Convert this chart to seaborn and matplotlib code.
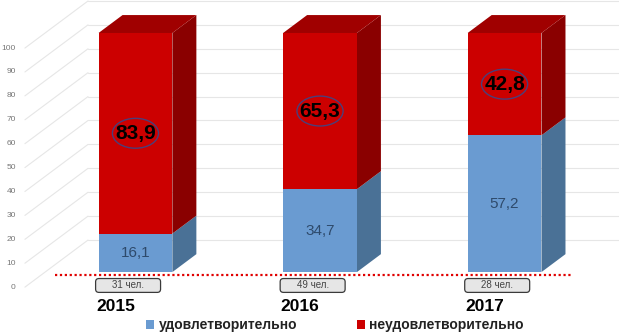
import numpy as np
import pandas as pd
import matplotlib.pyplot as plt
import seaborn as sns
from matplotlib.patches import Polygon, Ellipse, FancyBboxPatch, Rectangle

years = ["2015", "2016", "2017"]
satisfactory = [16.1, 34.7, 57.2]
unsatisfactory = [83.9, 65.3, 42.8]
people = ["31 чел.", "49 чел.", "28 чел."]
ticks = list(range(0, 101, 10))
legend_labels = ["удовлетворительно", "неудовлетворительно"]

BLUE, BLUE_SIDE = "#6a9bd1", "#4a7196"
RED, RED_SIDE, RED_TOP = "#cc0000", "#8a0000", "#a00000"
GRID = "#e6e6e6"

# fake 3d: offset of a bar's back face and of the back wall (data units)
DX, DY = 0.13, 7.5
FRONT_SHIFT = -6.3   # front axis scale sits a bit below the bar base
WALL_SHIFT = 13.4


def fmt(v):
    return f"{v:.1f}".replace(".", ",")


df = pd.DataFrame({"year": years, "sat": satisfactory, "unsat": unsatisfactory})
df["total"] = df["sat"] + df["unsat"]

sns.set_theme(style="white")
plt.rcParams["font.family"] = ["Liberation Sans", "DejaVu Sans"]

fig = plt.figure(figsize=(6.19, 3.34), dpi=100)
ax = fig.add_axes([0, 0, 1, 1])

# stacked bars: red total first, blue part on top of it
sns.barplot(data=df, x="year", y="total", color=RED, width=0.4, saturation=1,
            linewidth=0, errorbar=None, ax=ax, zorder=3)
red_bars = list(ax.patches)
sns.barplot(data=df, x="year", y="sat", color=BLUE, width=0.4, saturation=1,
            linewidth=0, errorbar=None, ax=ax, zorder=4)
blue_bars = list(ax.patches)[len(red_bars):]

# grid: slanted lines from the front scale to the back wall, then the wall
for t in ticks:
    ax.plot([-0.599, -0.257], [t + FRONT_SHIFT, t + WALL_SHIFT], color=GRID, lw=0.8, zorder=0)
    ax.plot([-0.257, 2.8], [t + WALL_SHIFT] * 2, color=GRID, lw=0.8, zorder=0)
    ax.text(-0.648, t + FRONT_SHIFT, str(t), ha="right", va="center",
            fontsize=6, color="#777777")

for i, (rb, bb) in enumerate(zip(red_bars, blue_bars)):
    x0 = rb.get_x()
    w = rb.get_width()
    x1 = x0 + w
    cx = x0 + w / 2
    b = bb.get_height()
    top = rb.get_height()

    # side and top faces
    ax.add_patch(Polygon([(x1, 0), (x1 + DX, DY), (x1 + DX, b + DY), (x1, b)],
                         closed=True, fc=BLUE_SIDE, lw=0, zorder=2))
    ax.add_patch(Polygon([(x1, b), (x1 + DX, b + DY), (x1 + DX, top + DY), (x1, top)],
                         closed=True, fc=RED_SIDE, lw=0, zorder=2))
    ax.add_patch(Polygon([(x0, top), (x1, top), (x1 + DX, top + DY), (x0 + DX, top + DY)],
                         closed=True, fc=RED_TOP, lw=0, zorder=2))

    # values
    ax.text(cx, b / 2, fmt(satisfactory[i]), ha="center", va="center",
            fontsize=11, color="#2e4a6b", zorder=7)
    ry = b + unsatisfactory[i] / 2
    ax.text(cx, ry, fmt(unsatisfactory[i]), ha="center", va="center",
            fontsize=15, fontweight="bold", color="black", zorder=7)
    ax.add_patch(Ellipse((cx, ry), 0.25, 12.5, fill=False, ec="#4a3f7a", lw=1, zorder=7))

    # people count box
    bx, by = cx - 0.04, -5.6
    ax.add_patch(FancyBboxPatch((bx - 0.176, by - 2.9), 0.352, 5.8,
                                boxstyle="round,pad=0,rounding_size=0.018",
                                mutation_aspect=184.5 / 2.39,
                                fc="#e6e6e6", ec="#3a3a3a", lw=0.9, zorder=6))
    ax.text(bx, by, people[i], ha="center", va="center", fontsize=7,
            color="#444444", zorder=7)

    # year label
    ax.text(cx - 0.108, -14.2, years[i], ha="center", va="center",
            fontsize=12.5, fontweight="bold", color="black")

# red dotted base line
ax.plot([-0.436, 2.366], [-1.25, -1.25], color="#e00000", lw=1.6,
        ls=(0, (1, 1.2)), zorder=8)

handles = [Rectangle((0, 0), 1, 1, fc=BLUE, lw=0), Rectangle((0, 0), 1, 1, fc=RED, lw=0)]
fig.legend(handles, legend_labels, loc="center", bbox_to_anchor=(0.541, 0.026),
           ncol=2, frameon=False, handlelength=0.6, handleheight=0.6,
           handletextpad=0.3, columnspacing=4.3,
           prop={"size": 10, "weight": "bold"}, labelcolor="#222222")

ax.set_xlim(-0.734, 2.62)
ax.set_ylim(-25.9, 113.8)
ax.axis("off")

fig.savefig("out.png", dpi=100, facecolor="white")
